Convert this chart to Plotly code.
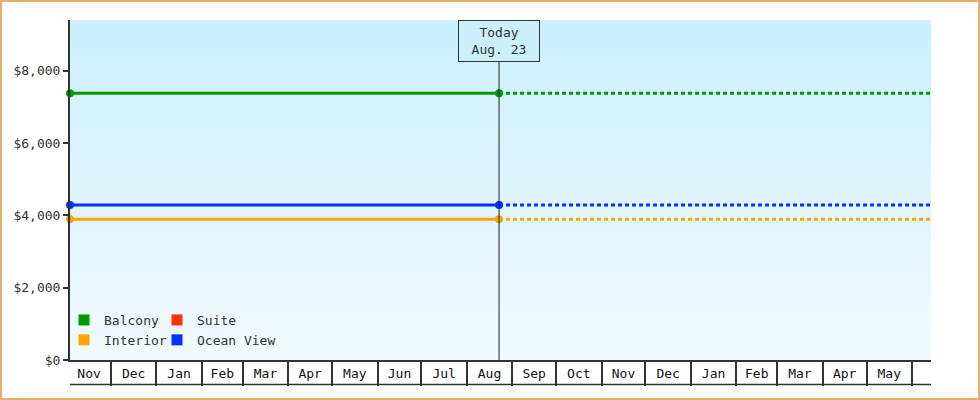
import plotly.graph_objects as go

# Price history per cabin type (flat since first tracked date)
START = "2021-11-03"
TODAY = "2022-08-23"
END = "2023-06-14"

cabins = ["Balcony", "Interior", "Ocean View"]
prices = [7375, 3890, 4285]
colors = ["#009900", "#FFA500", "#0033FF"]

legend1_names = ["Balcony", "Interior"]
legend1_colors = ["#009900", "#FFA500"]
legend2_names = ["Suite", "Ocean View"]
legend2_colors = ["#FF3300", "#0033FF"]

y_ticks = [0, 2000, 4000, 6000, 8000]
y_ticktext = ["$0", "$2,000", "$4,000", "$6,000", "$8,000"]
Y_MAX = 9400

FONT = "DejaVu Sans Mono"
INK = "#333333"

# plot area in pixels
L, R, T, B = 70, 49, 20, 40
W, H = 980, 400
PW, PH = W - L - R, H - T - B


def px_x(p):
    return (p - L) / PW


def px_y(p):
    return (H - B - p) / PH


fig = go.Figure()

# gradient background of the plot area
fig.add_trace(go.Scatter(
    x=[START, END, END, START], y=[0, 0, Y_MAX, Y_MAX],
    fill="toself", mode="lines", line=dict(width=0),
    fillgradient=dict(type="vertical",
                      colorscale=[[0, "#F2FAFF"], [1, "#CBEFFC"]]),
    hoverinfo="skip", showlegend=False,
))

for name, price, color in zip(cabins, prices, colors):
    # tracked so far
    fig.add_trace(go.Scatter(
        x=[START, TODAY], y=[price, price], mode="lines+markers",
        line=dict(color=color, width=3), marker=dict(size=8, color=color),
        cliponaxis=False, showlegend=False, name=name,
    ))
    # projection
    fig.add_trace(go.Scatter(
        x=[TODAY, END], y=[price, price], mode="lines",
        line=dict(color=color, width=3, dash="4px,3px"),
        cliponaxis=False, showlegend=False, name=name,
    ))

for name, color in zip(legend1_names, legend1_colors):
    fig.add_trace(go.Scatter(x=[None], y=[None], mode="markers", name=name,
                             marker=dict(symbol="square", size=11, color=color),
                             legend="legend"))
for name, color in zip(legend2_names, legend2_colors):
    fig.add_trace(go.Scatter(x=[None], y=[None], mode="markers", name=name,
                             marker=dict(symbol="square", size=11, color=color),
                             legend="legend2"))

fig.add_shape(type="line", x0=TODAY, x1=TODAY, y0=0, y1=1, yref="paper",
              line=dict(color="#222222", width=1), layer="above")
# bottom edge of the month boxes
fig.add_shape(type="line", xref="paper", yref="paper", x0=0, x1=1,
              y0=px_y(384.5), y1=px_y(384.5), line=dict(color=INK, width=1.5))
# outer frame
fig.add_shape(type="rect", xref="paper", yref="paper",
              x0=px_x(1), x1=px_x(979), y0=px_y(399), y1=px_y(1),
              line=dict(color="#EDAE6B", width=2))

fig.add_annotation(x=TODAY, y=1, xref="x", yref="paper", yanchor="top",
                   text="Today<br>Aug. 23", showarrow=False,
                   font=dict(family=FONT, size=13, color=INK),
                   bordercolor=INK, borderwidth=1, borderpad=3,
                   bgcolor="#CCEFFC", width=74, height=34)

legend_style = dict(font=dict(family=FONT, size=13, color=INK),
                    bgcolor="rgba(0,0,0,0)", yanchor="top", xanchor="left",
                    tracegroupgap=0, itemwidth=30)

fig.update_layout(
    width=W, height=H,
    margin=dict(l=L, r=R, t=T, b=B),
    paper_bgcolor="white", plot_bgcolor="rgba(0,0,0,0)",
    font=dict(family=FONT, size=13, color=INK),
    legend=dict(x=px_x(64), y=px_y(305), **legend_style),
    legend2=dict(x=px_x(157), y=px_y(305), **legend_style),
    xaxis=dict(type="date", range=[START, END], dtick="M1", tick0="2021-11-01",
               tickformat="%b", ticklabelmode="period", ticks="outside",
               ticklen=24, tickwidth=1.5, tickcolor=INK, showline=True,
               linecolor=INK, linewidth=1.5, showgrid=False, zeroline=False,
               ticklabelstandoff=-23, tickfont=dict(family=FONT, size=13, color="#111")),
    yaxis=dict(range=[0, Y_MAX], tickvals=y_ticks, ticktext=y_ticktext,
               ticks="outside", ticklen=5, tickwidth=2, tickcolor=INK,
               showline=True, linecolor=INK, linewidth=2, showgrid=False,
               zeroline=False, tickfont=dict(family=FONT, size=13, color=INK)),
    hovermode=False,
)

fig.write_html("out.html", config={"displayModeBar": False},
               post_script="document.body.style.margin='0';")
